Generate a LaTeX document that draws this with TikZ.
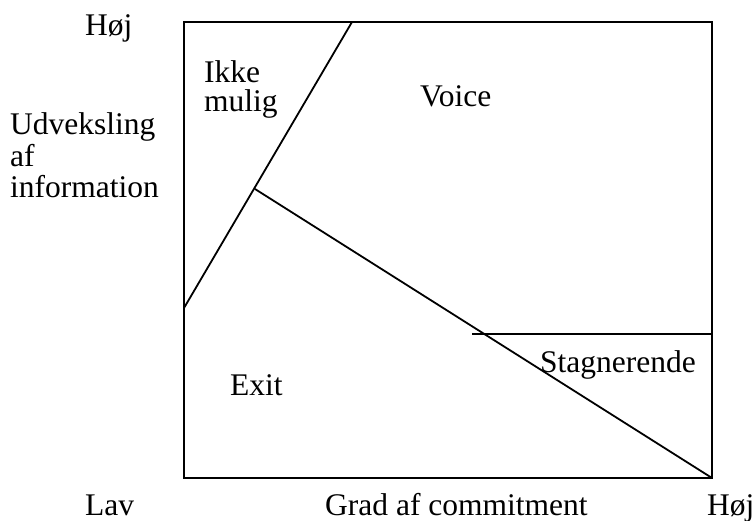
\documentclass[tikz,border=0pt]{standalone}
\usepackage{fontspec}
\setmainfont{Liberation Serif}
\begin{document}
\begin{tikzpicture}[x=1pt,y=-1pt,
  lbl/.style={anchor=base west,inner sep=0pt,font=\fontsize{31.5}{32}\selectfont},
  ln/.style={line width=1.8pt}]
\useasboundingbox (0,0) rectangle (755,521);
% frame
\coordinate (tl) at (184,22);
\coordinate (tr) at (712,22);
\coordinate (br) at (712,478);
\coordinate (bl) at (184,478);
\draw[ln] (tl) -- (tr) -- (br) -- (bl) -- cycle;
% dividing lines
\coordinate (a1) at (184,308);
\coordinate (a2) at (352,22);
\coordinate (j) at (255,189);
\coordinate (h1) at (472,334);
\coordinate (h2) at (712,334);
\draw[ln] (a1) -- (a2);
\draw[ln] (j) -- (br);
\draw[ln] (h1) -- (h2);
% labels
\node[lbl] (hojy) at (85,36) {Høj};
\node[lbl] (ud1) at (10,135) {Udveksling};
\node[lbl] (ud2) at (10,167) {af};
\node[lbl] (ud3) at (10,198) {information};
\node[lbl] (ik1) at (204,83) {Ikke};
\node[lbl] (ik2) at (204,112) {mulig};
\node[lbl] (voice) at (420,107) {Voice};
\node[lbl] (exit) at (230,395) {Exit};
\node[lbl] (stag) at (540,372) {Stagnerende};
\node[lbl] (lav) at (85,515) {Lav};
\node[lbl] (grad) at (325,515) {Grad af commitment};
\node[lbl] (hojx) at (707,515) {Høj};
\end{tikzpicture}
\end{document}
